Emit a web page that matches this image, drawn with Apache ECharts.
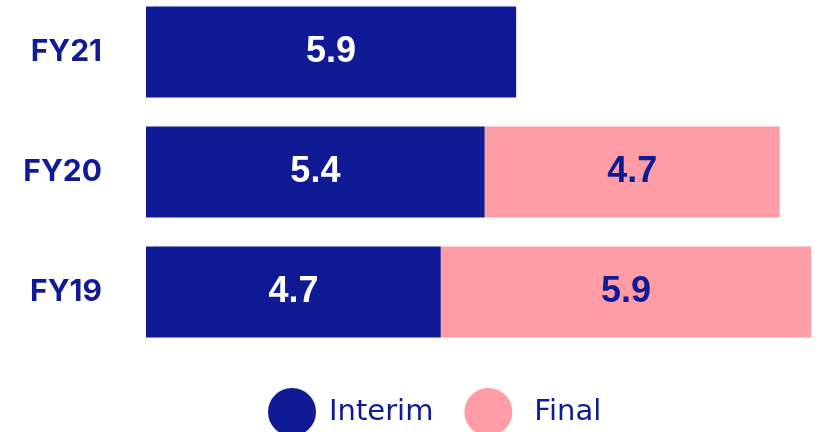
<!DOCTYPE html>
<html>
<head>
<meta charset="utf-8">
<script src="https://cdn.jsdelivr.net/npm/echarts@6/dist/echarts.min.js"></script>
<style>
  html, body { margin: 0; padding: 0; background: #fff; }
  #chart { width: 820px; height: 432px; }
</style>
</head>
<body>
<div id="chart"></div>
<script>
const categories = ['FY19', 'FY20', 'FY21'];
const interim = [4.7, 5.4, 5.9];
const final = [5.9, 4.7, null];

const navy = '#101a94';
const pink = '#ff9da6';

const chart = echarts.init(document.getElementById('chart'));

chart.setOption({
  animation: false,
  legend: {
    data: [
      { name: 'Interim' },
      { name: 'Final', textStyle: { padding: [0, 0, 0, 17] } }
    ],
    left: 263,
    top: 383,
    icon: 'circle',
    itemWidth: 48,
    itemHeight: 48,
    itemGap: 31,
    textStyle: { color: navy, fontSize: 29, fontFamily: 'DejaVu Sans', padding: [0, 0, 0, 8] }
  },
  grid: { left: 146, right: 9, top: -8, bottom: 80, outerBoundsMode: 'none' },
  xAxis: {
    type: 'value',
    min: 0,
    max: 10.6,
    show: false
  },
  yAxis: {
    type: 'category',
    data: categories,
    axisLine: { show: false },
    axisTick: { show: false },
    axisLabel: {
      color: navy,
      fontSize: 30,
      fontWeight: 'bold',
      fontFamily: 'Inter',
      margin: 44
    }
  },
  series: [
    {
      name: 'Interim',
      type: 'bar',
      stack: 'total',
      data: interim,
      barWidth: '76%',
      itemStyle: { color: navy },
      label: {
        show: true,
        position: 'inside',
        color: '#fff',
        fontSize: 36,
        fontWeight: 'bold',
        fontFamily: 'Liberation Sans'
      }
    },
    {
      name: 'Final',
      type: 'bar',
      stack: 'total',
      data: final,
      barWidth: '76%',
      itemStyle: { color: pink },
      label: {
        show: true,
        position: 'inside',
        color: navy,
        fontSize: 36,
        fontWeight: 'bold',
        fontFamily: 'Liberation Sans'
      }
    }
  ]
});
</script>
</body>
</html>
